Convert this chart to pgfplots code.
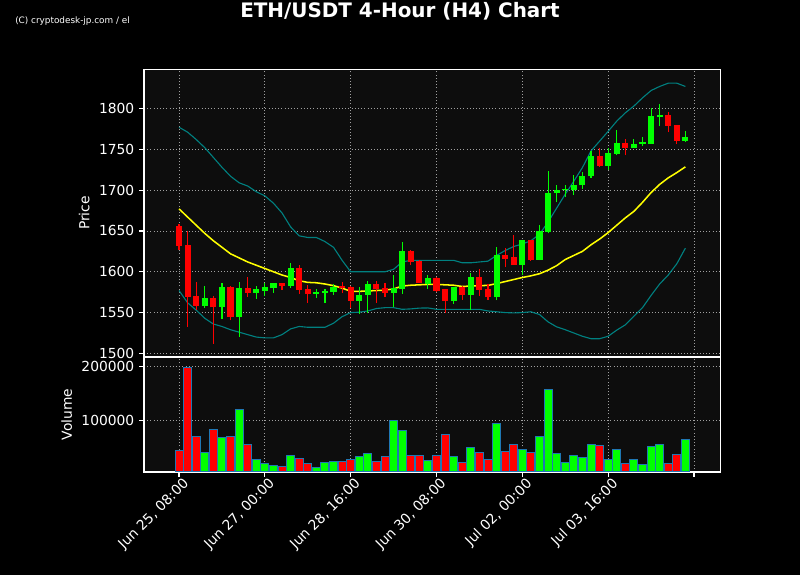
\documentclass[border=0pt]{standalone}
\usepackage{fontspec}
\setmainfont{DejaVu Sans}
\usepackage{pgfplots}
\usepackage{pgfplotstable}
\pgfplotsset{compat=1.18}

\definecolor{upc}{RGB}{0,255,0}
\definecolor{dnc}{RGB}{255,0,0}
\definecolor{bband}{RGB}{0,128,128}
\definecolor{smac}{RGB}{255,255,0}
\definecolor{panel}{RGB}{13,13,13}
\definecolor{vedge}{RGB}{31,119,180}
\definecolor{gridc}{RGB}{160,160,160}

% rising candles: index open high low close volume
\pgfplotstableread{
i o h l c v
3 1558 1583 1556 1567.5 40740
5 1557 1586.6 1542.7 1581 68520
7 1544.7 1588 1520 1579.7 120370
9 1574 1583 1567 1578.5 27780
10 1577 1586.6 1570 1581 20370
11 1579.7 1586.6 1574.4 1585.8 16670
13 1582 1611 1580 1605 35190
16 1573 1579 1568 1575 12960
17 1574.4 1579 1562 1576.4 22220
18 1575 1584.5 1572 1581 24070
21 1564 1581 1548 1572 33330
22 1571.5 1589 1550 1584.5 38890
25 1574 1596 1557 1579.7 100000
26 1579 1636.6 1573 1626 81480
29 1585 1595.5 1579 1592 25930
32 1564 1581.5 1561 1581 33330
34 1571.5 1599 1553 1594 50000
37 1568.7 1630.5 1565 1620 94440
40 1608 1639.5 1596 1639 46300
42 1615 1657 1614 1650.4 70370
43 1649 1724 1647 1696 157410
44 1696 1706.5 1685 1700 38890
45 1699.6 1706 1691 1700.8 22220
46 1699.6 1718 1694 1706.5 35190
47 1705.7 1722 1701.6 1717 31480
48 1716.7 1748 1714.6 1742 55560
50 1730 1751 1725 1745.5 27780
51 1744.7 1774 1742.7 1757.7 46300
53 1752 1763 1751.5 1757 27780
54 1757 1764.6 1753.7 1758.5 18520
55 1757 1800 1757 1791 51850
56 1790 1806 1778 1792 55560
59 1760.6 1772 1759 1765 64810
}\up

% falling candles
\pgfplotstableread{
i o h l c v
0 1656.5 1658 1627 1632 44450
1 1633 1650 1532.5 1569 198150
2 1570 1588 1553.6 1558 69750
4 1567.5 1570 1512 1556.5 83330
6 1581 1582 1540.6 1544.7 70370
8 1579.7 1593.5 1569 1574 55560
12 1585.8 1586 1578 1582 14810
14 1605 1607.7 1573 1577.6 29630
15 1578.5 1584 1562 1572.8 20370
19 1583 1587.8 1574.4 1579.7 24070
20 1581 1582 1556 1564 27780
23 1584.5 1589 1562 1578.5 24070
24 1579.7 1586.6 1569.5 1574 33330
27 1626 1627 1607.7 1612 35190
28 1613 1614 1585.8 1585.8 35190
30 1592 1594 1575 1577 35190
31 1578.5 1579 1550 1564 74070
33 1581 1582 1566 1571 22220
35 1594 1603.7 1570 1577.6 40740
36 1578.5 1584.5 1566 1568.7 27780
38 1620 1629 1605.7 1616 42590
39 1617.5 1645.5 1607.7 1607.7 55560
41 1639 1639.5 1613 1614.6 40740
49 1742 1752 1728.5 1730 53700
52 1757.7 1763 1742.7 1752 20370
57 1792 1795.5 1770.7 1779 20370
58 1779.7 1779.7 1756 1760.6 37040
}\dn

% moving average and bollinger bands
\pgfplotstableread{
i sma up lo
0 1677 1777 1577
1 1667 1771 1562
2 1657 1762 1553
3 1647 1752 1543
4 1638 1740 1536
5 1630 1728 1533
6 1622 1717 1529
7 1617 1709 1526
8 1612 1705 1523
9 1608 1698 1520
10 1604 1693 1519
11 1600 1684 1519
12 1596 1672 1523
13 1593 1655 1530
14 1589 1644 1533
15 1587 1642 1532
16 1586.5 1642 1532
17 1585 1637 1532
18 1583 1630 1537
19 1580 1614 1545
20 1576 1600 1550
21 1576 1600 1550.5
22 1576.5 1600 1552
23 1577 1600 1555
24 1577.5 1600 1556
25 1579 1603 1556
26 1582.5 1612 1554
27 1583.5 1614 1554.5
28 1584 1614 1555.5
29 1584.5 1614 1555.7
30 1584.5 1614 1554
31 1584 1614 1554
32 1583.5 1614 1554
33 1582 1611 1554
34 1582.5 1611 1554
35 1583 1612 1554
36 1583.3 1613 1552
37 1585.5 1620 1551
38 1588 1626 1550
39 1590.5 1631 1549.6
40 1593 1634 1550
41 1595 1638 1551
42 1597.6 1646 1547.6
43 1602 1661 1538.6
44 1607.5 1678 1532.5
45 1615 1695 1529
46 1620 1711 1525
47 1625 1727.6 1521
48 1633 1748 1518
49 1640 1760 1518
50 1648 1772 1521
51 1657 1784.5 1528.5
52 1666 1794.7 1535
53 1674 1803 1545.5
54 1685 1813 1556
55 1697 1822 1571
56 1707 1827 1585
57 1715 1831 1596
58 1721.5 1831 1609.8
59 1728.5 1827 1629
}\bands

\pgfplotsset{
  panelstyle/.style={
    scale only axis, anchor=north west,
    width=415bp,
    xmin=-4.08, xmax=63.08,
    axis background/.style={fill=panel},
    axis line style={white, line width=1bp},
    tick style={white, line width=0.8bp},
    major tick length=3.5bp,
    tick align=outside, tick pos=left,
    grid=major,
    grid style={gridc, line width=0.6bp, dash pattern=on 0.7bp off 1.6bp},
    xtick={0,10,...,60},
    ticklabel style={white, font=\fontsize{10}{12}\selectfont},
    label style={white, font=\fontsize{10}{12}\selectfont},
    /pgf/number format/assume math mode=true,
    /pgf/number format/fixed,
    /pgf/number format/1000 sep={},
    scaled y ticks=false,
  },
  wick/.style={only marks, mark=none, mark size=0pt,
    mark options={draw=none, fill=none}, forget plot,
    error bars/.cd, y dir=plus, y explicit, error mark=none,
    error bar style={draw=#1, line width=0.8bp}},
  body/.style={only marks, mark=none, mark size=0pt,
    mark options={draw=none, fill=none}, forget plot,
    error bars/.cd, y dir=plus, y explicit, error mark=none,
    error bar style={draw=#1, line width=4.4bp}},
}

\begin{document}
\begin{tikzpicture}
\path[use as bounding box, fill=black] (0,0) rectangle (576bp,-414bp);

\node[white, font=\bfseries\fontsize{14.4}{16}\selectfont] at (288bp,-8.3bp) {ETH/USDT 4-Hour (H4) Chart};
\node[white, anchor=west, inner sep=0pt, font=\fontsize{6.4}{7.5}\selectfont] at (10.8bp,-15.1bp) {(C) cryptodesk-jp.com / el};

\begin{axis}[panelstyle,
  at={(103.7bp,-49.9bp)}, height=206.9bp,
  ymin=1496, ymax=1848,
  ytick={1500,1550,...,1800},
  xticklabels={},
  ylabel={Price},
]
\addplot[bband, line width=0.8bp] table[x=i, y=up]{\bands};
\addplot[bband, line width=0.8bp] table[x=i, y=lo]{\bands};
\addplot[smac, line width=1.1bp] table[x=i, y=sma]{\bands};

\addplot[wick=upc] table[x=i, y=l, y error plus expr=\thisrow{h}-\thisrow{l}]{\up};
\addplot[wick=dnc] table[x=i, y=l, y error plus expr=\thisrow{h}-\thisrow{l}]{\dn};
\addplot[body=upc] table[x=i, y=o, y error plus expr=\thisrow{c}-\thisrow{o}]{\up};
\addplot[body=dnc] table[x=i, y=c, y error plus expr=\thisrow{o}-\thisrow{c}]{\dn};
\end{axis}

\begin{axis}[panelstyle,
  at={(103.7bp,-257bp)}, height=82.8bp,
  ymin=4300, ymax=217300,
  ytick={100000,200000},
  xticklabels={{Jun 25, 08:00},{Jun 27, 00:00},{Jun 28, 16:00},{Jun 30, 08:00},{Jul 02, 00:00},{Jul 03, 16:00},{}},
  xticklabel style={rotate=45, anchor=north east, inner sep=1.5bp, xshift=3bp},
  ylabel={Volume},
]
\addplot[ybar, bar width=0.93, bar shift=0pt, fill=upc, draw=vedge, line width=0.7bp] table[x=i, y=v]{\up};
\addplot[ybar, bar width=0.93, bar shift=0pt, fill=dnc, draw=vedge, line width=0.7bp] table[x=i, y=v]{\dn};
\end{axis}
\end{tikzpicture}
\end{document}
